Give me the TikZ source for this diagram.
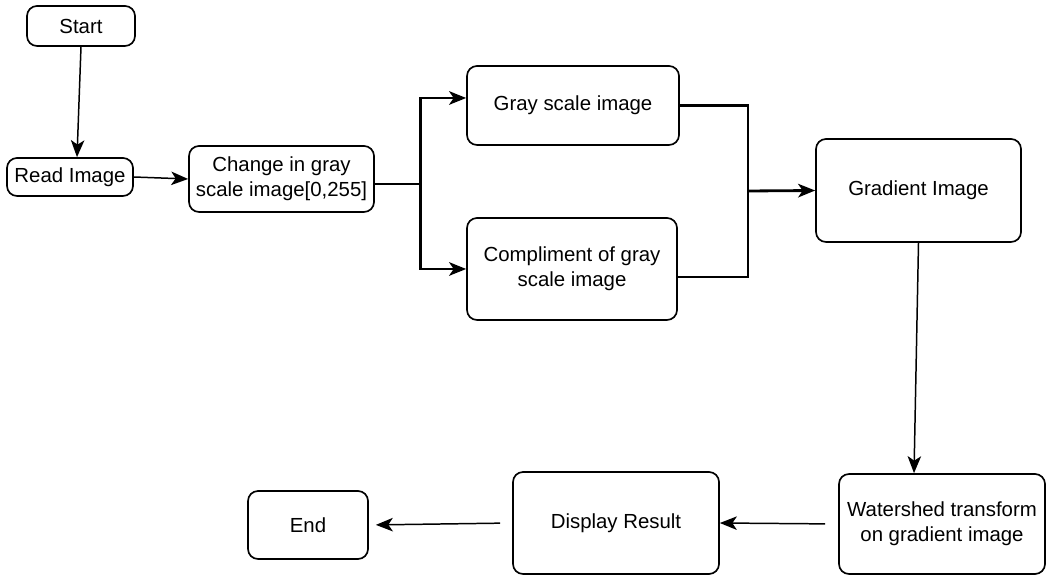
\documentclass[tikz,border=0pt]{standalone}
\usepackage{fontspec}
\setmainfont{Liberation Sans}
\usetikzlibrary{arrows.meta}
\begin{document}
\begin{tikzpicture}[every node/.style={font=\fontsize{11.6}{14}\selectfont}]
  \tikzstyle{bx}=[draw,rounded corners=0.2cm,align=center,line width=0.95pt,inner sep=2pt]
  \tikzstyle{ln}=[line width=0.85pt,-{Stealth[length=0.34cm,width=0.27cm,inset=0.09cm]}]
  \tikzstyle{thk}=[line width=1.6pt]
  \useasboundingbox (0,0) rectangle (20.96,-11.56);
  \node[bx,minimum width=2.16cm,minimum height=0.80cm] (start) at (1.62,-0.52) {Start};
  \node[bx,minimum width=2.52cm,minimum height=0.76cm] (read) at (1.40,-3.54) {Read Image};
  \node[bx,minimum width=3.70cm,minimum height=1.32cm] (change) at (5.63,-3.58) {Change in gray\\scale image[0,255]};
  \node[bx,minimum width=4.24cm,minimum height=1.58cm] (gray) at (11.46,-2.11) {Gray scale image};
  \node[bx,minimum width=4.20cm,minimum height=2.04cm] (compl) at (11.44,-5.38) {Compliment of gray\\scale image};
  \node[bx,minimum width=4.10cm,minimum height=2.06cm] (grad) at (18.37,-3.81) {Gradient Image};
  \node[bx,minimum width=4.12cm,minimum height=2.00cm] (water) at (18.84,-10.48) {Watershed transform\\on gradient image};
  \node[bx,minimum width=4.12cm,minimum height=2.04cm] (disp) at (12.32,-10.46) {Display Result};
  \node[bx,minimum width=2.40cm,minimum height=1.36cm] (end) at (6.16,-10.50) {End};
  \coordinate (merge) at (14.96,-3.82);
  \draw[ln] (start.south) -- ([xshift=0.14cm]read.north);
  \draw[ln] (read.east) -- (change.west);
  \draw[thk] ([yshift=-0.1cm]change.east) -- ++(0.92,0) coordinate (split);
  \draw[ln,thk] (split) |- ([yshift=0.15cm]gray.west);
  \draw[ln,thk] (split) |- (compl.west);
  \draw[thk] (gray.east) -| (merge);
  \draw[thk] ([yshift=-0.16cm]compl.east) -| (merge);
  \draw[ln,thk] (merge) -- (grad.west);
  \draw[ln] (grad.south) -- ([xshift=-0.56cm]water.north);
  \draw[ln,shorten <=0.26cm] (water.west) -- (disp.east);
  \draw[ln,shorten <=0.24cm,shorten >=0.14cm] (disp.west) -- (end.east);
\end{tikzpicture}
\end{document}
